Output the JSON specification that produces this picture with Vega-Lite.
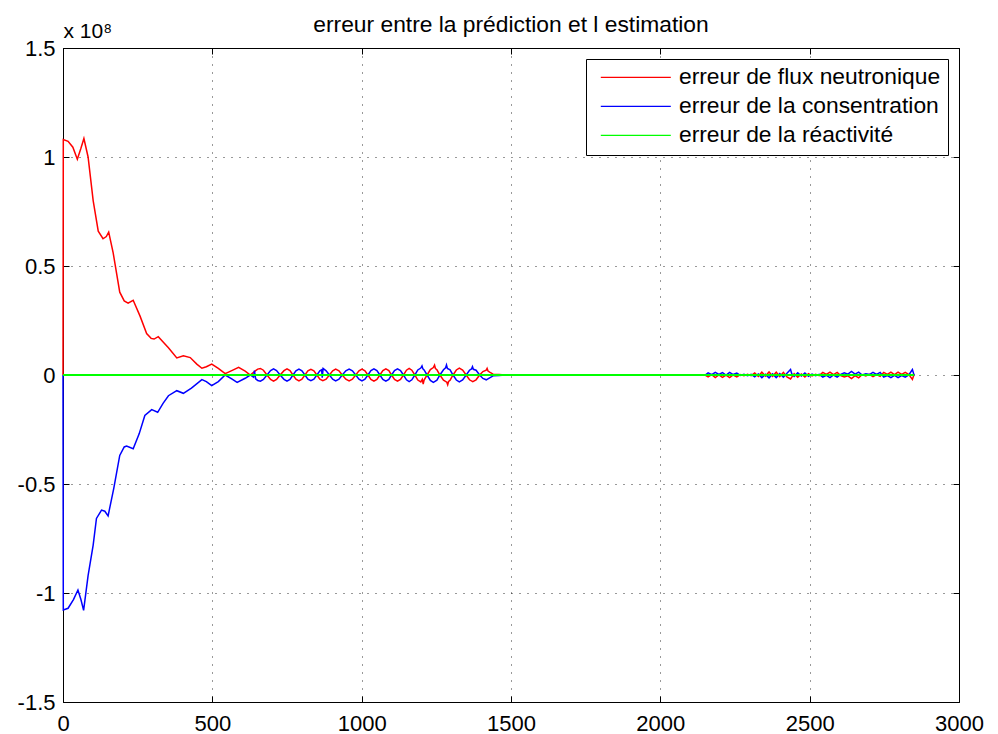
{
 "$schema": "https://vega.github.io/schema/vega-lite/v6.json",
 "width": 896,
 "height": 654,
 "autosize": {"type": "none"},
 "padding": {"left": 63, "top": 48, "right": 39, "bottom": 32},
 "background": "white",
 "config": {
  "font": "Liberation Sans",
  "view": {"stroke": "#000", "strokeWidth": 1},
  "axis": {
   "domain": false, "grid": true, "gridColor": "#000", "gridDash": [1, 7], "gridOpacity": 0.8, "gridWidth": 1,
   "tickColor": "#000", "tickSize": -6, "tickWidth": 1,
   "labelColor": "#000", "labelFont": "Liberation Sans", "labelFontSize": 22,
   "labelFlush": false, "labelOverlap": false, "labelBound": false,
   "titleFont": "Liberation Sans", "titleColor": "#000", "titleFontWeight": "normal"
  },
  "legend": {
   "orient": "top-right", "offset": 11, "padding": 7, "strokeColor": "#000", "fillColor": "#fff", "cornerRadius": 0,
   "symbolType": "M-7,0H7", "symbolSize": 100, "symbolStrokeWidth": 1.3, "symbolOffset": 31.4,
   "labelFontSize": 22.8, "labelFont": "Liberation Sans", "labelColor": "#000", "labelOffset": 31.8, "rowPadding": 5, "labelLimit": 400
  }
 },
 "title": {"text": "erreur entre la prédiction et l estimation", "fontSize": 22.8, "fontWeight": "normal", "font": "Liberation Sans", "color": "#000", "anchor": "middle", "baseline": "alphabetic", "offset": -10, "dy": 25, "frame": "group"},
 "data": {"values": [
  {"s":"erreur de flux neutronique","t":0,"v":0},
  {"s":"erreur de flux neutronique","t":1,"v":1.08},
  {"s":"erreur de flux neutronique","t":17,"v":1.072},
  {"s":"erreur de flux neutronique","t":33,"v":1.045},
  {"s":"erreur de flux neutronique","t":48,"v":0.99},
  {"s":"erreur de flux neutronique","t":60,"v":1.04},
  {"s":"erreur de flux neutronique","t":70,"v":1.085},
  {"s":"erreur de flux neutronique","t":84,"v":1.0},
  {"s":"erreur de flux neutronique","t":101,"v":0.8},
  {"s":"erreur de flux neutronique","t":118,"v":0.66},
  {"s":"erreur de flux neutronique","t":134,"v":0.625},
  {"s":"erreur de flux neutronique","t":145,"v":0.635},
  {"s":"erreur de flux neutronique","t":153,"v":0.655},
  {"s":"erreur de flux neutronique","t":168,"v":0.56},
  {"s":"erreur de flux neutronique","t":190,"v":0.38},
  {"s":"erreur de flux neutronique","t":205,"v":0.34},
  {"s":"erreur de flux neutronique","t":218,"v":0.33},
  {"s":"erreur de flux neutronique","t":235,"v":0.343},
  {"s":"erreur de flux neutronique","t":258,"v":0.27},
  {"s":"erreur de flux neutronique","t":280,"v":0.19},
  {"s":"erreur de flux neutronique","t":295,"v":0.168},
  {"s":"erreur de flux neutronique","t":305,"v":0.165},
  {"s":"erreur de flux neutronique","t":319,"v":0.176},
  {"s":"erreur de flux neutronique","t":336,"v":0.15},
  {"s":"erreur de flux neutronique","t":353,"v":0.125},
  {"s":"erreur de flux neutronique","t":381,"v":0.078},
  {"s":"erreur de flux neutronique","t":403,"v":0.088},
  {"s":"erreur de flux neutronique","t":426,"v":0.08},
  {"s":"erreur de flux neutronique","t":448,"v":0.05},
  {"s":"erreur de flux neutronique","t":465,"v":0.031},
  {"s":"erreur de flux neutronique","t":480,"v":0.038},
  {"s":"erreur de flux neutronique","t":498,"v":0.05},
  {"s":"erreur de flux neutronique","t":520,"v":0.03},
  {"s":"erreur de flux neutronique","t":543,"v":0.006},
  {"s":"erreur de flux neutronique","t":565,"v":0.02},
  {"s":"erreur de flux neutronique","t":588,"v":0.035},
  {"s":"erreur de flux neutronique","t":610,"v":0.018},
  {"s":"erreur de flux neutronique","t":627,"v":0},
  {"s":"erreur de flux neutronique","t":645,"v":0.02},
  {"s":"erreur de flux neutronique","t":652,"v":0.027},
  {"s":"erreur de flux neutronique","t":661,"v":0.03},
  {"s":"erreur de flux neutronique","t":671,"v":0.022},
  {"s":"erreur de flux neutronique","t":683,"v":0},
  {"s":"erreur de flux neutronique","t":695,"v":-0.02},
  {"s":"erreur de flux neutronique","t":705,"v":-0.028},
  {"s":"erreur de flux neutronique","t":715,"v":-0.02},
  {"s":"erreur de flux neutronique","t":727,"v":0},
  {"s":"erreur de flux neutronique","t":740,"v":0.02},
  {"s":"erreur de flux neutronique","t":750,"v":0.028},
  {"s":"erreur de flux neutronique","t":760,"v":0.02},
  {"s":"erreur de flux neutronique","t":770,"v":0},
  {"s":"erreur de flux neutronique","t":780,"v":-0.019},
  {"s":"erreur de flux neutronique","t":790,"v":-0.027},
  {"s":"erreur de flux neutronique","t":800,"v":-0.019},
  {"s":"erreur de flux neutronique","t":810,"v":0},
  {"s":"erreur de flux neutronique","t":820,"v":0.019},
  {"s":"erreur de flux neutronique","t":830,"v":0.026},
  {"s":"erreur de flux neutronique","t":840,"v":0.019},
  {"s":"erreur de flux neutronique","t":850,"v":0},
  {"s":"erreur de flux neutronique","t":860,"v":-0.019},
  {"s":"erreur de flux neutronique","t":870,"v":-0.026},
  {"s":"erreur de flux neutronique","t":881,"v":-0.019},
  {"s":"erreur de flux neutronique","t":892,"v":0},
  {"s":"erreur de flux neutronique","t":903,"v":0.019},
  {"s":"erreur de flux neutronique","t":913,"v":0.027},
  {"s":"erreur de flux neutronique","t":924,"v":0.019},
  {"s":"erreur de flux neutronique","t":935,"v":0},
  {"s":"erreur de flux neutronique","t":947,"v":-0.019},
  {"s":"erreur de flux neutronique","t":958,"v":-0.027},
  {"s":"erreur de flux neutronique","t":969,"v":-0.019},
  {"s":"erreur de flux neutronique","t":980,"v":0},
  {"s":"erreur de flux neutronique","t":991,"v":0.019},
  {"s":"erreur de flux neutronique","t":1001,"v":0.027},
  {"s":"erreur de flux neutronique","t":1011,"v":0.019},
  {"s":"erreur de flux neutronique","t":1021,"v":0},
  {"s":"erreur de flux neutronique","t":1031,"v":-0.02},
  {"s":"erreur de flux neutronique","t":1041,"v":-0.028},
  {"s":"erreur de flux neutronique","t":1051,"v":-0.02},
  {"s":"erreur de flux neutronique","t":1061,"v":0},
  {"s":"erreur de flux neutronique","t":1071,"v":0.02},
  {"s":"erreur de flux neutronique","t":1081,"v":0.028},
  {"s":"erreur de flux neutronique","t":1091,"v":0.02},
  {"s":"erreur de flux neutronique","t":1100,"v":0},
  {"s":"erreur de flux neutronique","t":1110,"v":-0.02},
  {"s":"erreur de flux neutronique","t":1120,"v":-0.028},
  {"s":"erreur de flux neutronique","t":1130,"v":-0.02},
  {"s":"erreur de flux neutronique","t":1140,"v":0},
  {"s":"erreur de flux neutronique","t":1150,"v":0.022},
  {"s":"erreur de flux neutronique","t":1159,"v":0.03},
  {"s":"erreur de flux neutronique","t":1168,"v":0.022},
  {"s":"erreur de flux neutronique","t":1178,"v":0},
  {"s":"erreur de flux neutronique","t":1188,"v":-0.023},
  {"s":"erreur de flux neutronique","t":1198,"v":-0.032},
  {"s":"erreur de flux neutronique","t":1203,"v":-0.02},
  {"s":"erreur de flux neutronique","t":1206,"v":-0.042},
  {"s":"erreur de flux neutronique","t":1209,"v":-0.023},
  {"s":"erreur de flux neutronique","t":1219,"v":0},
  {"s":"erreur de flux neutronique","t":1230,"v":0.025},
  {"s":"erreur de flux neutronique","t":1240,"v":0.034},
  {"s":"erreur de flux neutronique","t":1244,"v":0.045},
  {"s":"erreur de flux neutronique","t":1247,"v":0.03},
  {"s":"erreur de flux neutronique","t":1252,"v":0.024},
  {"s":"erreur de flux neutronique","t":1262,"v":0},
  {"s":"erreur de flux neutronique","t":1274,"v":-0.024},
  {"s":"erreur de flux neutronique","t":1285,"v":-0.033},
  {"s":"erreur de flux neutronique","t":1288,"v":-0.045},
  {"s":"erreur de flux neutronique","t":1291,"v":-0.03},
  {"s":"erreur de flux neutronique","t":1296,"v":-0.024},
  {"s":"erreur de flux neutronique","t":1306,"v":0},
  {"s":"erreur de flux neutronique","t":1317,"v":0.023},
  {"s":"erreur de flux neutronique","t":1327,"v":0.032},
  {"s":"erreur de flux neutronique","t":1338,"v":0.023},
  {"s":"erreur de flux neutronique","t":1350,"v":0},
  {"s":"erreur de flux neutronique","t":1361,"v":-0.022},
  {"s":"erreur de flux neutronique","t":1372,"v":-0.03},
  {"s":"erreur de flux neutronique","t":1383,"v":-0.022},
  {"s":"erreur de flux neutronique","t":1395,"v":0},
  {"s":"erreur de flux neutronique","t":1406,"v":0.016},
  {"s":"erreur de flux neutronique","t":1417,"v":0.022},
  {"s":"erreur de flux neutronique","t":1420,"v":0.03},
  {"s":"erreur de flux neutronique","t":1423,"v":0.018},
  {"s":"erreur de flux neutronique","t":1430,"v":0.012},
  {"s":"erreur de flux neutronique","t":1440,"v":0.004},
  {"s":"erreur de flux neutronique","t":1460,"v":0.002},
  {"s":"erreur de flux neutronique","t":1480,"v":0},
  {"s":"erreur de flux neutronique","t":1600,"v":0.001},
  {"s":"erreur de flux neutronique","t":1700,"v":0},
  {"s":"erreur de flux neutronique","t":1850,"v":0.001},
  {"s":"erreur de flux neutronique","t":2000,"v":0},
  {"s":"erreur de flux neutronique","t":2150,"v":0},
  {"s":"erreur de flux neutronique","t":2160,"v":-0.009},
  {"s":"erreur de flux neutronique","t":2172,"v":0.002},
  {"s":"erreur de flux neutronique","t":2184,"v":-0.012},
  {"s":"erreur de flux neutronique","t":2196,"v":0},
  {"s":"erreur de flux neutronique","t":2208,"v":-0.011},
  {"s":"erreur de flux neutronique","t":2220,"v":-0.001},
  {"s":"erreur de flux neutronique","t":2232,"v":-0.012},
  {"s":"erreur de flux neutronique","t":2244,"v":0},
  {"s":"erreur de flux neutronique","t":2256,"v":-0.009},
  {"s":"erreur de flux neutronique","t":2268,"v":0.002},
  {"s":"erreur de flux neutronique","t":2280,"v":-0.003},
  {"s":"erreur de flux neutronique","t":2292,"v":0.003},
  {"s":"erreur de flux neutronique","t":2304,"v":-0.003},
  {"s":"erreur de flux neutronique","t":2316,"v":0.009},
  {"s":"erreur de flux neutronique","t":2328,"v":-0.006},
  {"s":"erreur de flux neutronique","t":2340,"v":0.013},
  {"s":"erreur de flux neutronique","t":2352,"v":-0.005},
  {"s":"erreur de flux neutronique","t":2364,"v":0.014},
  {"s":"erreur de flux neutronique","t":2376,"v":-0.006},
  {"s":"erreur de flux neutronique","t":2388,"v":0.013},
  {"s":"erreur de flux neutronique","t":2400,"v":-0.007},
  {"s":"erreur de flux neutronique","t":2412,"v":0.012},
  {"s":"erreur de flux neutronique","t":2424,"v":-0.009},
  {"s":"erreur de flux neutronique","t":2436,"v":-0.018},
  {"s":"erreur de flux neutronique","t":2448,"v":0.006},
  {"s":"erreur de flux neutronique","t":2460,"v":-0.01},
  {"s":"erreur de flux neutronique","t":2472,"v":0.005},
  {"s":"erreur de flux neutronique","t":2484,"v":-0.009},
  {"s":"erreur de flux neutronique","t":2496,"v":0.006},
  {"s":"erreur de flux neutronique","t":2508,"v":-0.004},
  {"s":"erreur de flux neutronique","t":2520,"v":0.003},
  {"s":"erreur de flux neutronique","t":2532,"v":-0.003},
  {"s":"erreur de flux neutronique","t":2544,"v":0.012},
  {"s":"erreur de flux neutronique","t":2556,"v":0.003},
  {"s":"erreur de flux neutronique","t":2568,"v":0.013},
  {"s":"erreur de flux neutronique","t":2580,"v":0.002},
  {"s":"erreur de flux neutronique","t":2592,"v":0.012},
  {"s":"erreur de flux neutronique","t":2604,"v":-0.003},
  {"s":"erreur de flux neutronique","t":2616,"v":-0.009},
  {"s":"erreur de flux neutronique","t":2628,"v":-0.004},
  {"s":"erreur de flux neutronique","t":2640,"v":-0.016},
  {"s":"erreur de flux neutronique","t":2652,"v":-0.003},
  {"s":"erreur de flux neutronique","t":2664,"v":-0.013},
  {"s":"erreur de flux neutronique","t":2676,"v":0.002},
  {"s":"erreur de flux neutronique","t":2688,"v":-0.004},
  {"s":"erreur de flux neutronique","t":2700,"v":0.003},
  {"s":"erreur de flux neutronique","t":2712,"v":-0.007},
  {"s":"erreur de flux neutronique","t":2724,"v":0.002},
  {"s":"erreur de flux neutronique","t":2736,"v":-0.006},
  {"s":"erreur de flux neutronique","t":2748,"v":0.012},
  {"s":"erreur de flux neutronique","t":2760,"v":0.003},
  {"s":"erreur de flux neutronique","t":2772,"v":0.013},
  {"s":"erreur de flux neutronique","t":2784,"v":0.002},
  {"s":"erreur de flux neutronique","t":2796,"v":0.013},
  {"s":"erreur de flux neutronique","t":2808,"v":0.003},
  {"s":"erreur de flux neutronique","t":2820,"v":0.012},
  {"s":"erreur de flux neutronique","t":2832,"v":0.002},
  {"s":"erreur de flux neutronique","t":2844,"v":-0.02},
  {"s":"erreur de flux neutronique","t":2850,"v":0.004},
  {"s":"erreur de la consentration","t":0,"v":0},
  {"s":"erreur de la consentration","t":1,"v":-1.078},
  {"s":"erreur de la consentration","t":17,"v":-1.07},
  {"s":"erreur de la consentration","t":35,"v":-1.03},
  {"s":"erreur de la consentration","t":50,"v":-0.986},
  {"s":"erreur de la consentration","t":60,"v":-1.03},
  {"s":"erreur de la consentration","t":69,"v":-1.08},
  {"s":"erreur de la consentration","t":84,"v":-0.92},
  {"s":"erreur de la consentration","t":101,"v":-0.78},
  {"s":"erreur de la consentration","t":112,"v":-0.658},
  {"s":"erreur de la consentration","t":129,"v":-0.62},
  {"s":"erreur de la consentration","t":140,"v":-0.625},
  {"s":"erreur de la consentration","t":151,"v":-0.646},
  {"s":"erreur de la consentration","t":170,"v":-0.52},
  {"s":"erreur de la consentration","t":190,"v":-0.369},
  {"s":"erreur de la consentration","t":205,"v":-0.33},
  {"s":"erreur de la consentration","t":213,"v":-0.326},
  {"s":"erreur de la consentration","t":235,"v":-0.338},
  {"s":"erreur de la consentration","t":255,"v":-0.27},
  {"s":"erreur de la consentration","t":274,"v":-0.186},
  {"s":"erreur de la consentration","t":297,"v":-0.159},
  {"s":"erreur de la consentration","t":317,"v":-0.171},
  {"s":"erreur de la consentration","t":335,"v":-0.13},
  {"s":"erreur de la consentration","t":353,"v":-0.095},
  {"s":"erreur de la consentration","t":381,"v":-0.072},
  {"s":"erreur de la consentration","t":403,"v":-0.084},
  {"s":"erreur de la consentration","t":430,"v":-0.06},
  {"s":"erreur de la consentration","t":465,"v":-0.021},
  {"s":"erreur de la consentration","t":480,"v":-0.03},
  {"s":"erreur de la consentration","t":498,"v":-0.049},
  {"s":"erreur de la consentration","t":520,"v":-0.03},
  {"s":"erreur de la consentration","t":543,"v":0},
  {"s":"erreur de la consentration","t":565,"v":-0.018},
  {"s":"erreur de la consentration","t":583,"v":-0.034},
  {"s":"erreur de la consentration","t":610,"v":-0.015},
  {"s":"erreur de la consentration","t":627,"v":0},
  {"s":"erreur de la consentration","t":638,"v":-0.01},
  {"s":"erreur de la consentration","t":641,"v":0.02},
  {"s":"erreur de la consentration","t":645,"v":-0.018},
  {"s":"erreur de la consentration","t":652,"v":-0.025},
  {"s":"erreur de la consentration","t":661,"v":-0.028},
  {"s":"erreur de la consentration","t":671,"v":-0.02},
  {"s":"erreur de la consentration","t":683,"v":0},
  {"s":"erreur de la consentration","t":695,"v":0.02},
  {"s":"erreur de la consentration","t":705,"v":0.028},
  {"s":"erreur de la consentration","t":715,"v":0.02},
  {"s":"erreur de la consentration","t":727,"v":0},
  {"s":"erreur de la consentration","t":740,"v":-0.02},
  {"s":"erreur de la consentration","t":750,"v":-0.028},
  {"s":"erreur de la consentration","t":760,"v":-0.02},
  {"s":"erreur de la consentration","t":770,"v":0},
  {"s":"erreur de la consentration","t":780,"v":0.019},
  {"s":"erreur de la consentration","t":790,"v":0.027},
  {"s":"erreur de la consentration","t":800,"v":0.019},
  {"s":"erreur de la consentration","t":810,"v":0},
  {"s":"erreur de la consentration","t":820,"v":-0.019},
  {"s":"erreur de la consentration","t":830,"v":-0.026},
  {"s":"erreur de la consentration","t":840,"v":-0.019},
  {"s":"erreur de la consentration","t":850,"v":0},
  {"s":"erreur de la consentration","t":860,"v":0.019},
  {"s":"erreur de la consentration","t":866,"v":0.024},
  {"s":"erreur de la consentration","t":868,"v":-0.012},
  {"s":"erreur de la consentration","t":871,"v":0.03},
  {"s":"erreur de la consentration","t":881,"v":0.019},
  {"s":"erreur de la consentration","t":892,"v":0},
  {"s":"erreur de la consentration","t":903,"v":-0.019},
  {"s":"erreur de la consentration","t":913,"v":-0.027},
  {"s":"erreur de la consentration","t":924,"v":-0.019},
  {"s":"erreur de la consentration","t":935,"v":0},
  {"s":"erreur de la consentration","t":947,"v":0.019},
  {"s":"erreur de la consentration","t":958,"v":0.027},
  {"s":"erreur de la consentration","t":969,"v":0.019},
  {"s":"erreur de la consentration","t":980,"v":0},
  {"s":"erreur de la consentration","t":991,"v":-0.019},
  {"s":"erreur de la consentration","t":1001,"v":-0.027},
  {"s":"erreur de la consentration","t":1011,"v":-0.019},
  {"s":"erreur de la consentration","t":1021,"v":0},
  {"s":"erreur de la consentration","t":1031,"v":0.02},
  {"s":"erreur de la consentration","t":1041,"v":0.028},
  {"s":"erreur de la consentration","t":1051,"v":0.02},
  {"s":"erreur de la consentration","t":1061,"v":0},
  {"s":"erreur de la consentration","t":1071,"v":-0.02},
  {"s":"erreur de la consentration","t":1081,"v":-0.028},
  {"s":"erreur de la consentration","t":1091,"v":-0.02},
  {"s":"erreur de la consentration","t":1100,"v":0},
  {"s":"erreur de la consentration","t":1110,"v":0.02},
  {"s":"erreur de la consentration","t":1120,"v":0.028},
  {"s":"erreur de la consentration","t":1130,"v":0.02},
  {"s":"erreur de la consentration","t":1140,"v":0},
  {"s":"erreur de la consentration","t":1150,"v":-0.022},
  {"s":"erreur de la consentration","t":1159,"v":-0.03},
  {"s":"erreur de la consentration","t":1168,"v":-0.022},
  {"s":"erreur de la consentration","t":1178,"v":0},
  {"s":"erreur de la consentration","t":1188,"v":0.023},
  {"s":"erreur de la consentration","t":1198,"v":0.032},
  {"s":"erreur de la consentration","t":1202,"v":0.042},
  {"s":"erreur de la consentration","t":1205,"v":0.028},
  {"s":"erreur de la consentration","t":1209,"v":0.023},
  {"s":"erreur de la consentration","t":1219,"v":0},
  {"s":"erreur de la consentration","t":1230,"v":-0.025},
  {"s":"erreur de la consentration","t":1240,"v":-0.034},
  {"s":"erreur de la consentration","t":1252,"v":-0.024},
  {"s":"erreur de la consentration","t":1262,"v":0},
  {"s":"erreur de la consentration","t":1274,"v":0.024},
  {"s":"erreur de la consentration","t":1281,"v":0.033},
  {"s":"erreur de la consentration","t":1284,"v":0.046},
  {"s":"erreur de la consentration","t":1287,"v":0.03},
  {"s":"erreur de la consentration","t":1296,"v":0.024},
  {"s":"erreur de la consentration","t":1306,"v":0},
  {"s":"erreur de la consentration","t":1317,"v":-0.023},
  {"s":"erreur de la consentration","t":1327,"v":-0.032},
  {"s":"erreur de la consentration","t":1338,"v":-0.023},
  {"s":"erreur de la consentration","t":1350,"v":0},
  {"s":"erreur de la consentration","t":1361,"v":0.022},
  {"s":"erreur de la consentration","t":1368,"v":0.028},
  {"s":"erreur de la consentration","t":1371,"v":0.038},
  {"s":"erreur de la consentration","t":1374,"v":0.026},
  {"s":"erreur de la consentration","t":1383,"v":0.022},
  {"s":"erreur de la consentration","t":1395,"v":0},
  {"s":"erreur de la consentration","t":1406,"v":-0.016},
  {"s":"erreur de la consentration","t":1417,"v":-0.022},
  {"s":"erreur de la consentration","t":1430,"v":-0.012},
  {"s":"erreur de la consentration","t":1440,"v":-0.004},
  {"s":"erreur de la consentration","t":1460,"v":-0.002},
  {"s":"erreur de la consentration","t":1480,"v":0},
  {"s":"erreur de la consentration","t":1600,"v":-0.001},
  {"s":"erreur de la consentration","t":1700,"v":0},
  {"s":"erreur de la consentration","t":1850,"v":-0.001},
  {"s":"erreur de la consentration","t":2000,"v":0},
  {"s":"erreur de la consentration","t":2150,"v":0},
  {"s":"erreur de la consentration","t":2160,"v":0.01},
  {"s":"erreur de la consentration","t":2172,"v":0.002},
  {"s":"erreur de la consentration","t":2184,"v":0.012},
  {"s":"erreur de la consentration","t":2196,"v":0.003},
  {"s":"erreur de la consentration","t":2208,"v":0.011},
  {"s":"erreur de la consentration","t":2220,"v":0},
  {"s":"erreur de la consentration","t":2232,"v":0.012},
  {"s":"erreur de la consentration","t":2244,"v":0.002},
  {"s":"erreur de la consentration","t":2256,"v":0.009},
  {"s":"erreur de la consentration","t":2268,"v":-0.002},
  {"s":"erreur de la consentration","t":2280,"v":0.003},
  {"s":"erreur de la consentration","t":2292,"v":-0.003},
  {"s":"erreur de la consentration","t":2304,"v":0.003},
  {"s":"erreur de la consentration","t":2316,"v":-0.008},
  {"s":"erreur de la consentration","t":2328,"v":0.005},
  {"s":"erreur de la consentration","t":2340,"v":-0.012},
  {"s":"erreur de la consentration","t":2352,"v":0.003},
  {"s":"erreur de la consentration","t":2364,"v":-0.013},
  {"s":"erreur de la consentration","t":2376,"v":0.005},
  {"s":"erreur de la consentration","t":2388,"v":-0.012},
  {"s":"erreur de la consentration","t":2400,"v":0.006},
  {"s":"erreur de la consentration","t":2412,"v":-0.01},
  {"s":"erreur de la consentration","t":2424,"v":0.008},
  {"s":"erreur de la consentration","t":2436,"v":0.025},
  {"s":"erreur de la consentration","t":2440,"v":0.006},
  {"s":"erreur de la consentration","t":2448,"v":-0.006},
  {"s":"erreur de la consentration","t":2460,"v":0.01},
  {"s":"erreur de la consentration","t":2472,"v":-0.005},
  {"s":"erreur de la consentration","t":2484,"v":0.009},
  {"s":"erreur de la consentration","t":2496,"v":-0.006},
  {"s":"erreur de la consentration","t":2508,"v":0.004},
  {"s":"erreur de la consentration","t":2520,"v":-0.003},
  {"s":"erreur de la consentration","t":2532,"v":0.003},
  {"s":"erreur de la consentration","t":2544,"v":-0.01},
  {"s":"erreur de la consentration","t":2556,"v":-0.002},
  {"s":"erreur de la consentration","t":2568,"v":-0.012},
  {"s":"erreur de la consentration","t":2580,"v":0},
  {"s":"erreur de la consentration","t":2592,"v":-0.01},
  {"s":"erreur de la consentration","t":2604,"v":0.003},
  {"s":"erreur de la consentration","t":2616,"v":0.01},
  {"s":"erreur de la consentration","t":2628,"v":0.004},
  {"s":"erreur de la consentration","t":2640,"v":0.016},
  {"s":"erreur de la consentration","t":2652,"v":0.004},
  {"s":"erreur de la consentration","t":2664,"v":0.013},
  {"s":"erreur de la consentration","t":2676,"v":0},
  {"s":"erreur de la consentration","t":2688,"v":0.006},
  {"s":"erreur de la consentration","t":2700,"v":0.002},
  {"s":"erreur de la consentration","t":2712,"v":0.012},
  {"s":"erreur de la consentration","t":2724,"v":0.003},
  {"s":"erreur de la consentration","t":2736,"v":0.012},
  {"s":"erreur de la consentration","t":2748,"v":-0.01},
  {"s":"erreur de la consentration","t":2760,"v":-0.003},
  {"s":"erreur de la consentration","t":2772,"v":-0.012},
  {"s":"erreur de la consentration","t":2784,"v":-0.002},
  {"s":"erreur de la consentration","t":2796,"v":-0.012},
  {"s":"erreur de la consentration","t":2808,"v":-0.003},
  {"s":"erreur de la consentration","t":2820,"v":-0.01},
  {"s":"erreur de la consentration","t":2832,"v":0},
  {"s":"erreur de la consentration","t":2844,"v":0.025},
  {"s":"erreur de la consentration","t":2850,"v":-0.003},
  {"s":"erreur de la réactivité","t":0,"v":0},
  {"s":"erreur de la réactivité","t":2850,"v":0}
 ]},
 "layer": [
  {
   "transform": [{"filter": "datum.s !== 'erreur de la réactivité'"}],
   "mark": {"type": "line", "strokeWidth": 1.5},
   "encoding": {
    "x": {"field": "t", "type": "quantitative", "scale": {"domain": [0, 3000], "nice": false, "zero": false},
          "axis": {"values": [0, 500, 1000, 1500, 2000, 2500, 3000], "format": "d", "title": null, "labelPadding": 17}},
    "y": {"field": "v", "type": "quantitative", "scale": {"domain": [-1.5, 1.5], "nice": false},
          "axis": {"values": [-1.5, -1, -0.5, 0, 0.5, 1, 1.5], "labelExpr": "toString(datum.value)", "labelPadding": 14,
                   "title": "x 10⁸", "titleAngle": 0, "titleAlign": "left", "titleBaseline": "alphabetic", "titleX": 0, "titleY": -11, "titleFontSize": 21}},
    "color": {"field": "s", "type": "nominal",
              "scale": {"domain": ["erreur de flux neutronique", "erreur de la consentration", "erreur de la réactivité"], "range": ["#ff0000", "#0000ff", "#00ff00"]},
              "legend": {"title": null}}
   }
  },
  {
   "transform": [{"filter": "datum.s === 'erreur de la réactivité'"}],
   "mark": {"type": "line", "strokeWidth": 2},
   "encoding": {
    "x": {"field": "t", "type": "quantitative", "axis": null},
    "y": {"field": "v", "type": "quantitative", "axis": null},
    "color": {"field": "s", "type": "nominal"}
   }
  },
  {
   "transform": [{"filter": "datum.s === 'erreur de la réactivité'"}],
   "mark": {"type": "point", "opacity": 0},
   "encoding": {
    "x": {"field": "t", "type": "quantitative", "axis": {"orient": "top", "labels": false, "grid": false, "values": [0, 500, 1000, 1500, 2000, 2500, 3000], "title": null}},
    "y": {"field": "v", "type": "quantitative", "axis": {"orient": "right", "labels": false, "grid": false, "values": [-1.5, -1, -0.5, 0, 0.5, 1, 1.5], "title": null}}
   }
  }
 ],
 "resolve": {"axis": {"x": "independent", "y": "independent"}}
}
